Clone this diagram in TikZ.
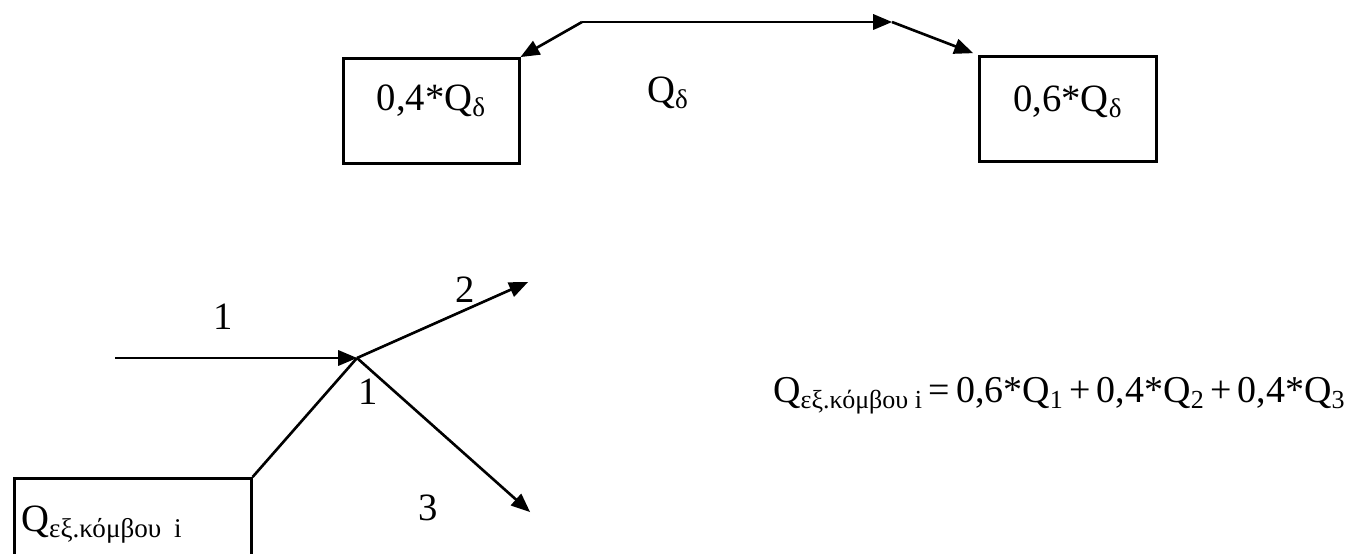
\documentclass[tikz,border=0pt]{standalone}
\usepackage{fontspec}
\setmainfont{Liberation Serif}
\usetikzlibrary{positioning,arrows,calc}
\tikzset{
  flow/.style={line width=1.5pt, draw=black, -triangle 45},
  plain/.style={line width=1.5pt, draw=black},
  share/.style={draw, line width=1.5pt, inner sep=0pt, font=\fontsize{22}{26}\selectfont},
  num/.style={font=\fontsize{22}{26}\selectfont}
}
\newcommand{\lowidx}[1]{\raisebox{-0.35ex}{\fontsize{14.8}{17}\selectfont #1}}

\begin{document}
\begin{tikzpicture}[x=0.02cm,y=-0.02cm]
  \useasboundingbox (0,0) rectangle (1353,554);
  % split of Q_delta
  \node[share, anchor=north west, minimum width=3.52cm, text height=1.04cm, text depth=1.06cm] (left) at (342,57) {0,4*Q\textsubscript{δ}};
  \node[share, anchor=north west, minimum width=3.54cm, text height=1.1cm, text depth=1.0cm] (right) at (978,55) {0,6*Q\textsubscript{δ}};
  \coordinate (bend1) at (582,22);
  \coordinate (bend2) at (892,22);
  \draw[flow] (bend1) -- (left.north east);
  \draw[flow] (bend1) -- (bend2);
  \draw[flow, shorten >=3pt] (bend2) -- (right.north west);
  \node[num] (qd) at (668,93) {Q\textsubscript{δ}};
  % node i
  \coordinate (start) at (115,358);
  \coordinate (junc) at (357,358);
  \coordinate (out2) at (528,282);
  \coordinate (out3) at (530,512);
  \node[share, anchor=north west, inner xsep=0.14cm, text width=4.46cm, align=left, text height=1.06cm, text depth=0.9cm, font=\fontsize{22}{26}\selectfont] (qbox) at (13,477) {Q\textsubscript{εξ.κόμβου i}};
  \draw[flow] (start) -- (junc);
  \draw[flow] (junc) -- (out2);
  \draw[flow] (junc) -- (out3);
  \draw[plain] (qbox.north east) -- (junc);
  \node[num] (lin) at (223,317) {1};
  \node[num] (ltwo) at (465,290) {2};
  \node[num] (lthree) at (428,508) {3};
  \node[num] (ljunc) at (368,392) {1};
  % outflow of node i
  \node[anchor=base east, inner sep=0pt, font=\fontsize{21.6}{25}\selectfont] (eq) at (1345,402) {Q\lowidx{εξ.κόμβου i}\,=\,0,6*Q\lowidx{1}\,+\,0,4*Q\lowidx{2}\,+\,0,4*Q\lowidx{3}};
\end{tikzpicture}
\end{document}
